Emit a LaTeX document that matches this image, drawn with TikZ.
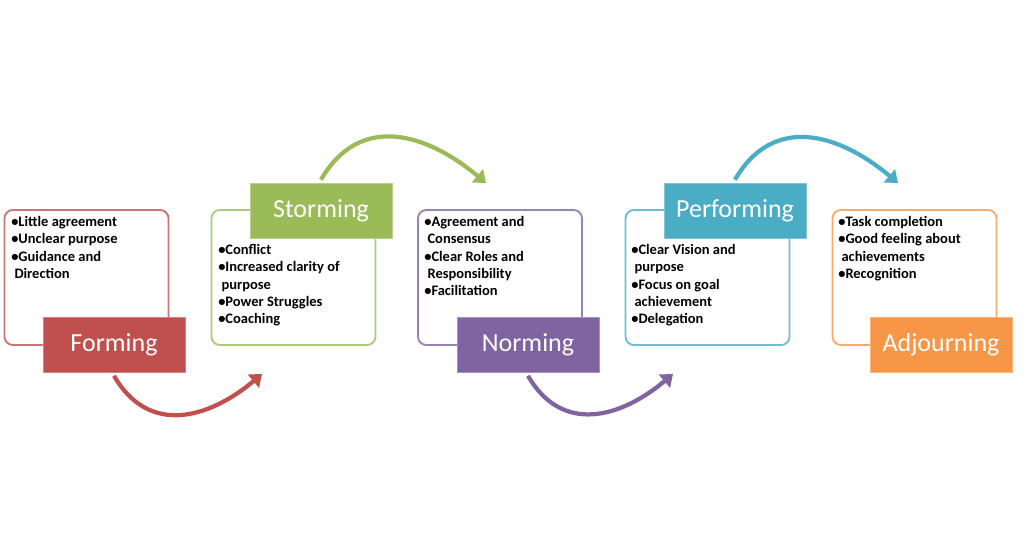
\documentclass[tikz,border=0pt]{standalone}
\usepackage{fontspec}
\setmainfont{Carlito}
\usetikzlibrary{positioning,arrows.meta}
\definecolor{cRed}{HTML}{C0504D}
\definecolor{cGreen}{HTML}{9BBB59}
\definecolor{cPurple}{HTML}{8064A2}
\definecolor{cTeal}{HTML}{4BACC6}
\definecolor{cOrange}{HTML}{F79646}
\tikzset{
    stage/.style={draw=#1!80,line width=1.3pt,rounded corners=6pt,minimum width=4.1cm,minimum height=3.375cm},
    tag/.style={fill=#1,draw=#1!70!white,text=white,minimum width=3.55cm,minimum height=1.375cm,font=\fontsize{18.5}{18.5}\selectfont},
    items/.style={anchor=north west,align=left,inner sep=0pt,font=\fontsize{10.3}{12.3}\selectfont\bfseries},
    flow/.style={draw=#1,line width=3pt,-{Triangle[length=8pt,width=12pt]}},
}
\begin{document}
\begin{tikzpicture}[x=0.025cm,y=-0.025cm]
\useasboundingbox (0,0) rectangle (1024,557);
% boxes
\node[stage=cRed] (formbox) at (86.5,277.5) {};
\node[stage=cGreen] (stormbox) at (293.5,277.5) {};
\node[stage=cPurple] (normbox) at (500,277.5) {};
\node[stage=cTeal] (perfbox) at (707.5,277.5) {};
\node[stage=cOrange] (adjbox) at (914.5,277.5) {};
% bullet lists
\node[items] (formtxt) at (11,216) {•Little agreement\\•Unclear purpose\\•Guidance and\\ \ Direction};
\node[items] (stormtxt) at (218,244) {•Conflict\\•Increased clarity of\\ \ purpose\\•Power Struggles\\•Coaching};
\node[items] (normtxt) at (424,216) {•Agreement and\\ \ Consensus\\•Clear Roles and\\ \ Responsibility\\•Facilitation};
\node[items] (perftxt) at (631,244) {•Clear Vision and\\ \ purpose\\•Focus on goal\\ \ achievement\\•Delegation};
\node[items] (adjtxt) at (838,216) {•Task completion\\•Good feeling about\\ \ achievements\\•Recognition};
% labels
\node[tag=cRed] (forming) at (114,345) {Forming};
\node[tag=cGreen] (storming) at (321,210.5) {Storming};
\node[tag=cPurple] (norming) at (528,345) {Norming};
\node[tag=cTeal] (performing) at (735,210.5) {Performing};
\node[tag=cOrange] (adjourning) at (941,345) {Adjourning};
% arrows
\coordinate (a1) at (262,374);
\coordinate (a2) at (486,183);
\coordinate (a3) at (673,374);
\coordinate (a4) at (898,183);
\draw[flow=cRed] (forming.south) ++(0,3) to[out=-60,in=-140,looseness=1.2] (a1);
\draw[flow=cGreen] (storming.north) ++(0,-3) to[out=60,in=140,looseness=1.2] (a2);
\draw[flow=cPurple] (norming.south) ++(0,3) to[out=-60,in=-140,looseness=1.2] (a3);
\draw[flow=cTeal] (performing.north) ++(0,-3) to[out=60,in=140,looseness=1.2] (a4);
\end{tikzpicture}
\end{document}
